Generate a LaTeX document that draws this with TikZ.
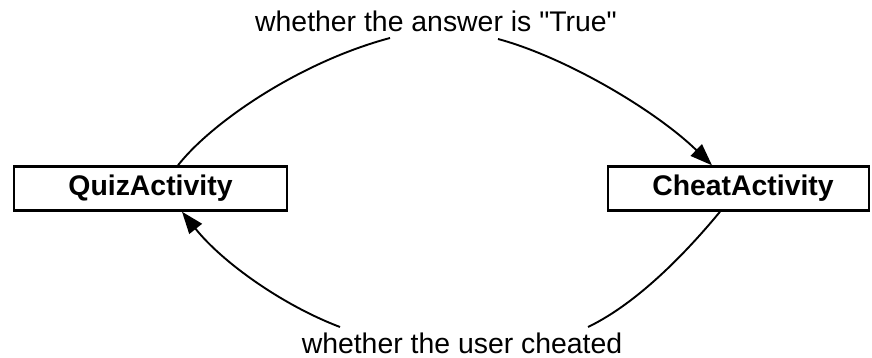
\documentclass[tikz,border=0pt]{standalone}
\usepackage{fontspec}
\setmainfont{Liberation Sans}[Ligatures=TeXOff]
\usetikzlibrary{arrows.meta}
\begin{document}
\begin{tikzpicture}[x=1pt,y=1pt,
  actbox/.style={draw,line width=2.4pt,minimum height=44pt,inner sep=0pt,
    font=\fontsize{28.4}{34}\selectfont\bfseries},
  lbl/.style={inner sep=0pt,anchor=base,font=\fontsize{28.4}{34}\selectfont},
  conn/.style={line width=1.9pt},
  tip/.style={-{Triangle[length=22pt,width=16pt]}}]
\useasboundingbox (0,0) rectangle (872,-358);
\node[actbox,minimum width=273pt] (quiz) at (150.5,-188.5) {QuizActivity};
\node[actbox,minimum width=261pt] (cheat) at (738.5,-188.5) {\hspace*{9pt}CheatActivity};
\node[lbl] (top) at (436,-32) {whether the answer is "True"};
\node[lbl] (bot) at (462,-353) {whether the user cheated};
\coordinate (t1) at (390,-38);
\coordinate (t2) at (498,-39);
\coordinate (b1) at (588,-327);
\coordinate (b2) at (340,-327);
\draw[conn] ([xshift=27.5pt]quiz.north) .. controls (212,-122) and (300,-62) .. (t1);
\draw[conn,tip] (t2) .. controls (565,-57) and (655,-110) .. ([xshift=-26.5pt]cheat.north);
\draw[conn] ([xshift=-18.5pt]cheat.south) .. controls (690,-248) and (640,-302) .. (b1);
\draw[conn,tip] (b2) .. controls (282,-305) and (222,-262) .. ([xshift=31.5pt]quiz.south);
\end{tikzpicture}
\end{document}
